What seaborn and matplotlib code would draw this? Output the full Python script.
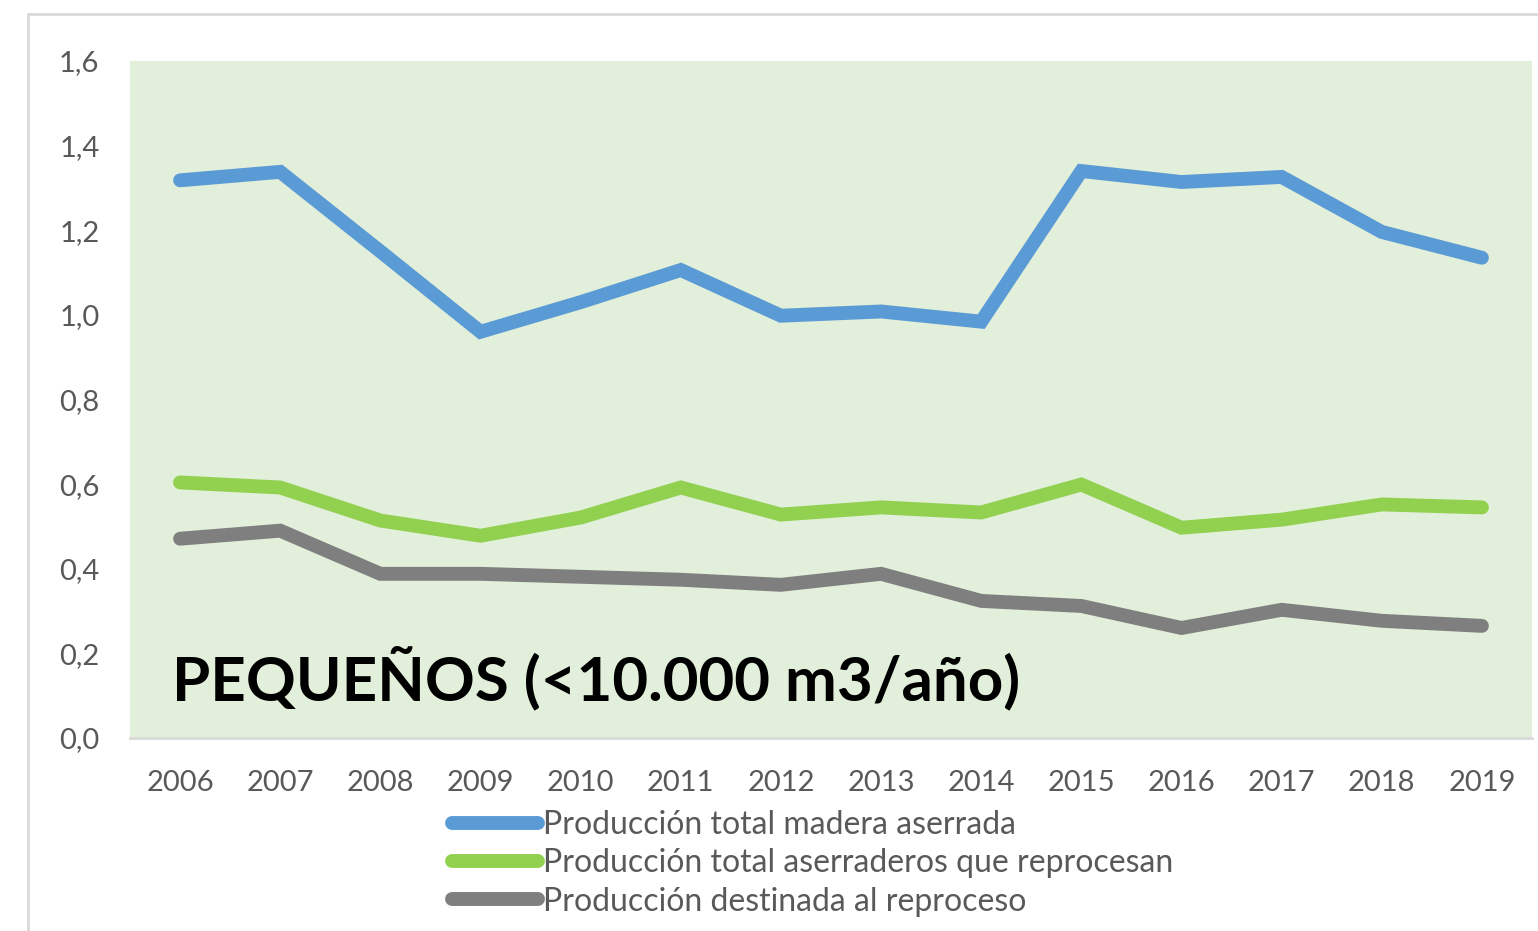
import numpy as np
import pandas as pd
import matplotlib
matplotlib.use("Agg")
import matplotlib.pyplot as plt
import seaborn as sns
from matplotlib.patches import Rectangle
from matplotlib.ticker import FuncFormatter

# data (millions m3)
years = [2006, 2007, 2008, 2009, 2010, 2011, 2012, 2013, 2014, 2015, 2016, 2017, 2018, 2019]
madera_aserrada = [1.318, 1.338, 1.150, 0.960, 1.030, 1.106, 0.998, 1.008, 0.984, 1.340, 1.314, 1.326, 1.196, 1.135]
aserraderos_reprocesan = [0.604, 0.592, 0.514, 0.478, 0.521, 0.592, 0.528, 0.545, 0.533, 0.599, 0.497, 0.516, 0.552, 0.545]
destinada_reproceso = [0.471, 0.490, 0.388, 0.388, 0.381, 0.374, 0.362, 0.388, 0.324, 0.312, 0.260, 0.303, 0.277, 0.265]

series_names = ["Producción total madera aserrada",
                "Producción total aserraderos que reprocesan",
                "Producción destinada al reproceso"]
colors = ["#5B9BD5", "#92D050", "#7F7F7F"]

df = pd.DataFrame({
    "year": [str(y) for y in years] * 3,
    "value": madera_aserrada + aserraderos_reprocesan + destinada_reproceso,
    "serie": np.repeat(series_names, len(years)),
})

sns.set_style("white")
plt.rcParams["font.family"] = ["Lato", "DejaVu Sans"]

fig = plt.figure(figsize=(15.38, 9.31), dpi=100)
ax = fig.add_axes([130 / 1538, 193 / 931, 1402 / 1538, 677 / 931])
ax.set_facecolor("#E2EFDA")

sns.lineplot(data=df, x="year", y="value", hue="serie", palette=colors,
             linewidth=10, sort=False, ax=ax)
for ln in ax.get_lines():
    ln.set_solid_capstyle("round")
    ln.set_solid_joinstyle("miter")

ax.set_xlim(-0.5, len(years) - 0.5)
ax.set_ylim(0, 1.6)
ax.set_yticks(np.arange(0, 1.61, 0.2))
ax.yaxis.set_major_formatter(FuncFormatter(lambda v, p: f"{v:.1f}".replace(".", ",")))
ax.set_xlabel("")
ax.set_ylabel("")
ax.tick_params(axis="both", length=0, labelsize=21, labelcolor="#595959")
ax.tick_params(axis="y", pad=22)
ax.tick_params(axis="x", pad=23)

for s in ["top", "right", "left"]:
    ax.spines[s].set_visible(False)
ax.spines["bottom"].set_color("#D9D9D9")
ax.spines["bottom"].set_linewidth(2)

fig.text(172 / 1538, (931 - 700) / 931, "PEQUEÑOS (<10.000 m3/año)",
         fontsize=44.5, fontweight="bold", color="black", ha="left", va="baseline")

handles, labels = ax.get_legend_handles_labels()
ax.legend(handles, labels, loc="upper left", bbox_to_anchor=(452 / 1538, (931 - 810) / 931),
          bbox_transform=fig.transFigure, frameon=False, fontsize=23,
          labelcolor="#595959", handlelength=2.7, handletextpad=0.15,
          labelspacing=0.26, borderpad=0, borderaxespad=0)

# outer chart border (cropped at right and bottom like the reference)
fig.patches.append(Rectangle((28 / 1538, -0.05), 1.2, (931 - 14) / 931 + 0.05,
                             transform=fig.transFigure, fill=False,
                             edgecolor="#D9D9D9", linewidth=2))

fig.savefig("out.png", dpi=100)
